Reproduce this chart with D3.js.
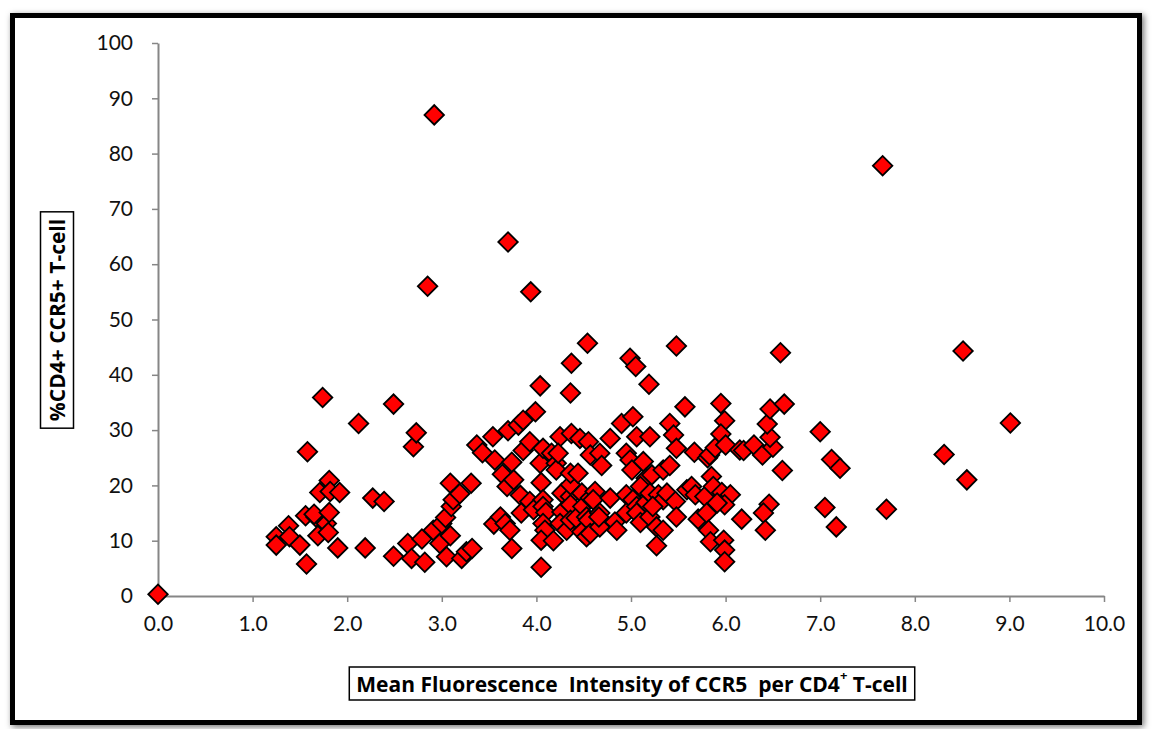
<!DOCTYPE html>
<html>
<head>
<meta charset="utf-8">
<script src="https://cdn.jsdelivr.net/npm/d3@7"></script>
<style>
  html, body { margin: 0; padding: 0; background: #fff; }
  svg { display: block; font-family: Lato, 'Open Sans', sans-serif; }
</style>
</head>
<body>
<svg id="chart" width="1152" height="729"></svg>
<script>
// MFI of CCR5 (x) vs %CD4+ CCR5+ T-cells (y)
const mfi = [
  0.00, 1.25, 1.25, 1.38, 1.39, 1.50, 1.57, 1.56, 1.58, 1.67, 1.65, 1.69, 1.74, 1.78, 1.80, 1.81, 1.81, 1.71, 1.82, 1.92,
  1.90, 2.12, 2.19, 2.27, 2.39, 2.49, 2.49, 2.64, 2.68, 2.70, 2.73, 2.79, 2.82, 2.85, 2.92, 2.91, 2.98,
  3.00, 3.04, 3.05, 3.09, 3.09, 3.10, 3.12, 3.19, 3.21, 3.26, 3.32, 3.31, 3.37, 3.43, 3.54, 3.56, 3.55, 3.62, 3.67, 3.72,
  3.64, 3.69, 3.70, 3.70, 3.74, 3.76, 3.74, 3.81, 3.86, 3.83, 3.84, 3.86, 3.93, 3.93, 3.94, 3.97, 3.99,
  4.04, 4.05, 4.04, 4.05, 4.07, 4.07, 4.07, 4.10, 4.07, 4.09, 4.05, 4.18, 4.16, 4.21, 4.21, 4.25, 4.23, 4.27, 4.27, 4.25,
  4.32, 4.36, 4.36, 4.36, 4.36, 4.36, 4.37, 4.36, 4.37, 4.42, 4.46, 4.44, 4.48, 4.49, 4.48, 4.53, 4.55, 4.53, 4.57, 4.54,
  4.55, 4.57, 4.57, 4.62, 4.60, 4.67, 4.69, 4.67, 4.67, 4.66, 4.78, 4.78, 4.83, 4.85, 4.90, 4.99, 4.95, 4.99, 4.95, 4.95,
  5.05, 5.01, 5.02, 5.02, 5.06, 5.06, 5.10, 5.06, 5.20, 5.13, 5.16, 5.22, 5.10, 5.16, 5.20, 5.19, 5.20, 5.29, 5.34, 5.23,
  5.27, 5.34, 5.27, 5.34, 5.41, 5.41, 5.45, 5.48, 5.48, 5.38, 5.47, 5.48,
  5.57, 5.67, 5.81, 5.83, 5.89, 5.95, 5.99, 5.95, 6.00, 6.15, 6.19, 6.30, 6.39, 6.50, 6.47, 6.44, 6.47, 6.62, 6.58, 6.60,
  5.59, 5.64, 5.68, 5.78, 5.85, 5.87, 5.96, 6.05, 5.99, 5.91, 5.71, 5.80, 5.82, 5.84, 5.98, 5.99, 5.99, 6.17, 6.46, 6.40,
  6.42,
  7.00, 7.05, 7.12, 7.21, 7.17, 7.66, 7.70, 8.31, 8.51, 8.55, 9.01
];

const pctCCR5 = [
  0.3, 10.7, 9.2, 12.7, 10.7, 9.2, 5.8, 14.5, 26.1, 14.3, 14.8, 10.9, 35.9, 13.1, 11.5, 15.1, 20.9, 18.7, 18.9, 18.7,
  8.7, 31.2, 8.7, 17.7, 17.1, 34.7, 7.2, 9.5, 6.8, 27.0, 29.5, 10.3, 6.1, 56.0, 87.0, 11.9, 9.5,
  13.1, 14.2, 7.1, 10.9, 20.4, 16.2, 17.4, 18.5, 6.8, 8.0, 8.6, 20.4, 27.3, 25.9, 28.8, 24.6, 13.0, 14.3, 13.1, 11.9,
  22.0, 19.8, 29.9, 64.0, 24.2, 21.0, 8.6, 30.9, 31.8, 18.2, 15.0, 26.3, 27.9, 17.1, 55.0, 15.6, 33.3,
  38.0, 5.2, 24.0, 20.5, 26.7, 17.4, 16.2, 15.1, 13.1, 11.9, 10.1, 10.0, 25.8, 24.0, 22.8, 28.8, 25.8, 18.6, 15.2, 13.1,
  11.9, 18.0, 16.5, 13.7, 20.1, 22.2, 29.4, 36.7, 42.1, 14.1, 28.5, 22.2, 18.6, 16.2, 11.6, 14.3, 13.7, 10.7, 11.3, 45.7,
  27.9, 25.5, 17.7, 18.9, 17.4, 25.8, 23.6, 15.0, 12.5, 14.3, 28.5, 17.7, 13.4, 11.9, 31.2, 43.0, 25.8, 24.6, 18.3, 15.0,
  41.5, 22.8, 32.4, 17.4, 16.2, 15.0, 13.3, 28.8, 28.8, 24.3, 21.3, 21.9, 19.8, 16.9, 14.3, 38.3, 18.6, 18.3, 17.4, 16.2,
  12.5, 11.9, 9.1, 22.8, 23.6, 31.2, 29.1, 26.7, 45.2, 18.6, 17.1, 14.3,
  34.2, 26.0, 25.0, 25.5, 26.8, 34.8, 31.7, 29.3, 27.3, 26.4, 26.3, 27.3, 25.5, 26.9, 28.7, 31.1, 33.8, 34.7, 44.0, 22.7,
  19.2, 19.8, 18.3, 18.0, 21.6, 19.8, 18.7, 18.3, 16.5, 16.8, 13.9, 15.0, 11.9, 9.8, 10.1, 8.3, 6.2, 13.9, 16.6, 15.0,
  11.9,
  29.7, 16.0, 24.7, 23.1, 12.5, 77.8, 15.7, 25.6, 44.3, 21.0, 31.3
];

const xTicks = [0, 1, 2, 3, 4, 5, 6, 7, 8, 9, 10];
const yTicks = [0, 10, 20, 30, 40, 50, 60, 70, 80, 90, 100];

const points = mfi.map((x, i) => ({ x, y: pctCCR5[i] }));

const svg = d3.select('#chart');
const plot = { left: 158, right: 1104, top: 43, bottom: 596 };

// outer frame with soft shadow
const defs = svg.append('defs');
const shadow = defs.append('filter').attr('id', 'frameShadow')
  .attr('x', '-5%').attr('y', '-5%').attr('width', '110%').attr('height', '110%');
shadow.append('feDropShadow')
  .attr('dx', 2).attr('dy', 2).attr('stdDeviation', 3)
  .attr('flood-color', '#000').attr('flood-opacity', 0.55);

svg.append('rect')
  .attr('x', 12.5).attr('y', 15.5)
  .attr('width', 1127).attr('height', 707)
  .attr('fill', '#fff')
  .attr('stroke', '#000')
  .attr('stroke-width', 5)
  .attr('filter', 'url(#frameShadow)');

const x = d3.scaleLinear().domain([0, 10]).range([plot.left, plot.right]);
const y = d3.scaleLinear().domain([0, 100]).range([plot.bottom, plot.top]);

const axisColor = '#868686';

const xAxis = svg.append('g')
  .attr('transform', `translate(0,${plot.bottom})`)
  .call(d3.axisBottom(x).tickValues(xTicks).tickFormat(d3.format('.1f')).tickSizeInner(6).tickSizeOuter(0).tickPadding(14));

const yAxis = svg.append('g')
  .attr('transform', `translate(${plot.left},0)`)
  .call(d3.axisLeft(y).tickValues(yTicks).tickFormat(d3.format('d')).tickSizeInner(6).tickSizeOuter(0).tickPadding(19));

[xAxis, yAxis].forEach(a => {
  a.select('.domain').attr('stroke', axisColor).attr('stroke-width', 2);
  a.selectAll('.tick line').attr('stroke', axisColor).attr('stroke-width', 1.5);
  a.selectAll('.tick text')
    .attr('fill', '#111')
    .style('font-size', '21px')
    .style('font-family', "Lato, 'Open Sans', sans-serif");
});

// markers: red squares turned 45 degrees
const diamond = d3.symbol(d3.symbolSquare, 190);
svg.append('g')
  .selectAll('path')
  .data(points)
  .join('path')
  .attr('d', diamond)
  .attr('transform', d => `translate(${x(d.x)},${y(d.y)}) rotate(45)`)
  .attr('fill', '#ff0000')
  .attr('stroke', '#000')
  .attr('stroke-width', 1.8);

// axis titles in boxes
function boxedTitle(cx, cy, rotate, size, build) {
  const g = svg.append('g').attr('transform', `translate(${cx},${cy}) rotate(${rotate})`);
  const box = g.append('rect');
  const t = g.append('text')
    .attr('text-anchor', 'middle')
    .attr('dominant-baseline', 'central')
    .style('font-family', "'Open Sans', Lato, sans-serif")
    .style('font-size', size + 'px')
    .style('font-weight', 'bold')
    .style('white-space', 'pre')
    .attr('fill', '#000');
  build(t);
  const bb = t.node().getBBox();
  box.attr('x', bb.x - 7).attr('y', -16.5)
    .attr('width', bb.width + 14).attr('height', 33)
    .attr('fill', '#fff').attr('stroke', '#000').attr('stroke-width', 1.5);
}

boxedTitle(632, 683.5, 0, 21, t => {
  t.append('tspan').text('Mean Fluorescence  Intensity of CCR5  per CD4');
  t.append('tspan').attr('baseline-shift', 'super').style('font-size', '13px').text('+');
  t.append('tspan').text(' T-cell');
});

boxedTitle(57, 320, -90, 21, t => {
  t.text('%CD4+ CCR5+ T-cell');
});
</script>
</body>
</html>
